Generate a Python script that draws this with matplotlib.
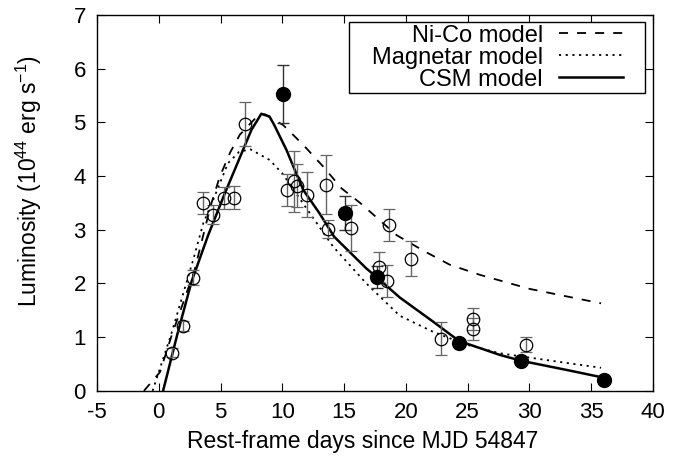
import matplotlib
matplotlib.use('Agg')
import matplotlib.pyplot as plt
from matplotlib.path import Path
import numpy as np

plt.rcParams['font.family'] = ['Liberation Sans', 'DejaVu Sans']
plt.rcParams['mathtext.default'] = 'regular'
plt.rcParams['axes.unicode_minus'] = False

# open circles: day, luminosity, error
open_x = [1.09, 1.93, 2.79, 3.60, 4.41, 5.30, 6.11, 6.96, 10.38, 10.95, 11.15,
          11.96, 13.57, 13.71, 15.60, 17.84, 18.50, 18.67, 20.42, 22.88, 25.47,
          25.47, 29.75]
open_y = [0.71, 1.21, 2.11, 3.50, 3.28, 3.59, 3.60, 4.97, 3.74, 3.90, 3.82,
          3.65, 3.84, 3.01, 3.03, 2.31, 2.05, 3.09, 2.46, 0.97, 1.34,
          1.15, 0.86]
open_err = [0.08, 0.10, 0.14, 0.21, 0.18, 0.20, 0.22, 0.41, 0.30, 0.57, 0.40,
            0.42, 0.55, 0.17, 0.43, 0.28, 0.30, 0.30, 0.33, 0.31, 0.20,
            0.20, 0.14]

# filled circles
fill_x = [10.02, 15.08, 17.63, 24.30, 29.34, 36.05]
fill_y = [5.53, 3.31, 2.12, 0.90, 0.56, 0.20]
fill_err = [0.54, 0.32, 0.20, 0.0, 0.0, 0.0]

# model curves
nico_x = [-1.2, 0.1, 1.0, 2.9, 4.2, 4.94, 5.8, 6.56, 8.0, 8.6, 9.1, 10.07, 11.7,
          13.3, 14.8, 16.3, 19.25, 21.5, 23.55, 26.0, 30.0, 33.0, 35.8]
nico_y = [0.0, 0.35, 1.0, 2.25, 3.45, 3.99, 4.45, 4.77, 5.12, 5.15, 5.08, 4.95,
          4.58, 4.18, 3.77, 3.50, 2.90, 2.60, 2.35, 2.16, 1.90, 1.76, 1.63]

mag_x = [-0.5, 1.0, 2.8, 3.6, 4.41, 5.6, 6.5, 7.4, 8.98, 10.0, 11.5, 14.1,
         16.8, 19.5, 22.2, 24.9, 27.6, 30.3, 33.0, 35.8]
mag_y = [0.0, 1.05, 2.45, 3.12, 3.56, 4.24, 4.45, 4.50, 4.30, 4.05, 3.55, 2.69,
         2.00, 1.40, 1.10, 0.86, 0.70, 0.61, 0.52, 0.43]

csm_x = [0.35, 1.5, 2.66, 4.0, 5.35, 7.5, 8.3, 8.96, 9.35, 10.33, 11.0, 11.7,
         13.0, 14.2, 16.8, 17.63, 19.5, 22.2, 24.3, 27.6, 29.34, 33.0, 35.5]
csm_y = [0.0, 1.05, 2.04, 2.90, 3.68, 4.86, 5.16, 5.11, 4.95, 4.49, 4.12, 3.74,
         3.31, 2.87, 2.28, 2.12, 1.74, 1.29, 0.93, 0.67, 0.56, 0.39, 0.27]


def key_box(x0, y0, width, height, mutation_size):
    # gnuplot-like key: wide side padding, almost none on top/bottom
    px = 0.85 * mutation_size
    return Path([(x0 - px, y0), (x0 + width + px, y0), (x0 + width + px, y0 + height),
                 (x0 - px, y0 + height), (x0 - px, y0)], closed=True)


fig = plt.figure(figsize=(6.83, 4.62), dpi=100)
ax = fig.add_axes([0.142, 0.154, 0.814, 0.8135])

ax.plot(nico_x, nico_y, color='black', lw=1.3, ls=(0, (5, 5)), label='Ni-Co model')
ax.plot(mag_x, mag_y, color='black', lw=1.3, ls=(0, (1.2, 2.5)), label='Magnetar model')
ax.plot(csm_x, csm_y, color='black', lw=1.8, ls='-', label='CSM model')

ax.errorbar(open_x, open_y, yerr=open_err, fmt='o', mfc='none', mec='black',
            mew=0.9, ms=9, ecolor='#666666', elinewidth=1.0, capsize=4, capthick=1.0)
fx = [x for x, e in zip(fill_x, fill_err) if e > 0]
fy = [y for y, e in zip(fill_y, fill_err) if e > 0]
fe = [e for e in fill_err if e > 0]
ax.errorbar(fx, fy, yerr=fe, fmt='none', ecolor='#333333', elinewidth=1.0,
            capsize=4, capthick=1.0)
ax.plot(fill_x, fill_y, 'o', color='black', ms=10)

ax.set_xlim(-5, 40)
ax.set_ylim(0, 7)
ax.set_xticks(np.arange(-5, 41, 5))
ax.set_yticks(np.arange(0, 8, 1))
ax.tick_params(direction='in', top=True, right=True, length=6, width=0.8,
               labelsize=16, pad=8)
for s in ax.spines.values():
    s.set_linewidth(1.0)

ax.set_xlabel('Rest-frame days since MJD 54847', fontsize=16.5, va='top')
ax.xaxis.set_label_coords(0.477, -0.105)
ax.set_ylabel('Luminosity (10$^{44}$ erg s$^{-1}$)', fontsize=16.5)
ax.yaxis.set_label_coords(-0.095, 0.558)

leg = ax.legend(loc='upper right', bbox_to_anchor=(0.9505, 0.981), borderaxespad=0,
                fontsize=17, markerfirst=False, fancybox=False, framealpha=1,
                edgecolor='black', handlelength=2.7, handletextpad=0.7,
                labelspacing=0.0, borderpad=0.1)
leg.get_frame().set_boxstyle(key_box)
leg.get_frame().set_linewidth(1.0)

fig.savefig('out.png', dpi=100)
